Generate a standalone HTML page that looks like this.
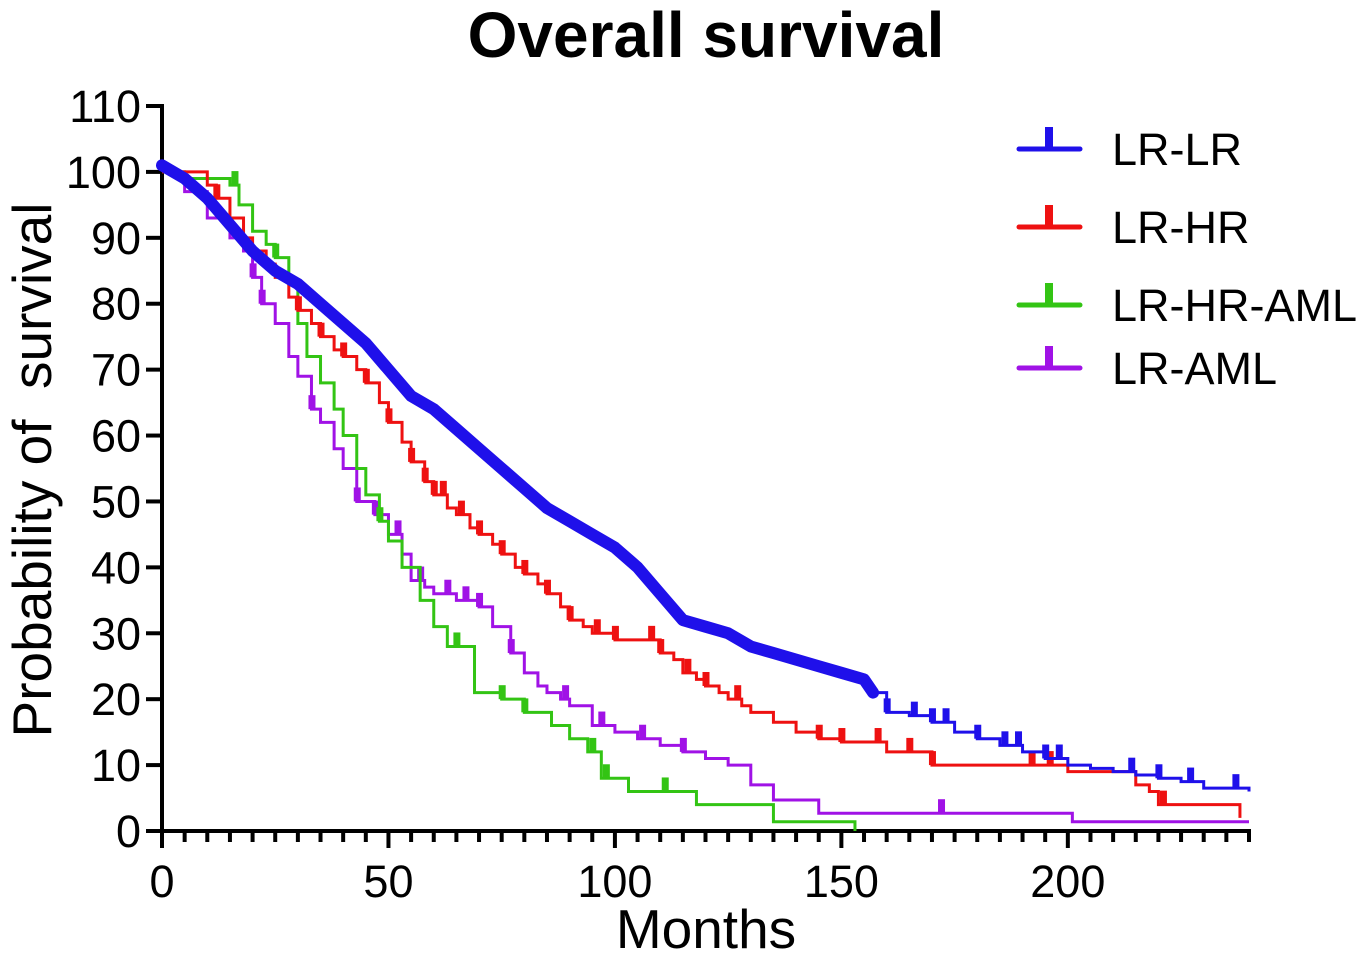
<!DOCTYPE html>
<html><head><meta charset="utf-8"><style>
html,body{margin:0;padding:0;background:#fff;}
svg{display:block;font-family:"Liberation Sans",Arial,sans-serif;}
</style></head><body>
<svg id="chart" width="1367" height="959" viewBox="0 0 1367 959">
<text x="706" y="57" text-anchor="middle" font-size="64" font-weight="bold">Overall survival</text>
<text x="706" y="948" text-anchor="middle" font-size="55">Months</text>
<text transform="translate(51,470) rotate(-90)" text-anchor="middle" font-size="55" xml:space="preserve">Probability of  survival</text>
<g id="axes"></g>
<g id="series"></g>
<g id="legend"></g>
</svg>
<script>
const xTicks=[0,50,100,150,200];
const yTicks=[0,10,20,30,40,50,60,70,80,90,100,110];
const seriesNames=["LR-LR","LR-HR","LR-HR-AML","LR-AML"];
const seriesColors=["#1f10ea","#ee1111","#33c414","#a012e6"];
const lrlrTimes=[0,5,10,15,20,25,30,35,40,45,50,55,60,65,70,75,80,85,90,95,100,105,110,115,120,125,130,135,140,145,150,155,157,160,165,170,175,180,185,190,195,200,205,210,215,220,225,230,240];
const lrlrSurv=[101,99,96,92,88,85,83,80,77,74,70,66,64,61,58,55,52,49,47,45,43,40,36,32,31,30,28,27,26,25,24,23,21,18,17.5,16.5,15,14,13,12,11,10,9.5,9,8.5,8,7.5,6.5,6];
const lrlrCensor=[160,166,170,173,180,186,189,195,198,214,220,227,237];
const lrhrTimes=[0,10,12,15,18,20,23,25,28,30,33,35,38,40,43,45,48,50,53,55,58,60,63,65,68,70,73,75,78,80,83,85,88,90,93,95,100,110,113,115,118,120,123,125,128,130,135,140,145,150,160,170,190,200,210,215,218,220,238];
const lrhrSurv=[100,98,96,93,90,88,86,84,81,79,77,75,73,72,70,68,65,62,59,56,53,51,49,48,46,45,43.5,42,40,39,37.5,36,34,32,31,30,29,27,26,24,23,22,21,20,19,18,16.5,15,14,13.5,12,10,10,9,9,7,6,4,2];
const lrhrCensor=[12,30,35,40,45,50,55,58,60,62,66,70,75,80,85,90,96,100,108,110,116,120,127,145,150,158,165,170,192,196,221];
const amlhrTimes=[0,5,15,17,20,23,25,28,30,32,35,38,40,43,45,48,50,53,57,60,63,69,75,80,86,90,94,97,103,118,135,153];
const amlhrSurv=[100,99,98,95,91,89,87,83,77,72,68,64,60,55,51,47,44,40,35,31,28,21,20,18,16,14,12,8,6,4,1.4,0];
const amlhrCensor=[16,25,48,65,75,80,95,98,111];
const amlTimes=[0,5,10,15,18,20,22,25,28,30,33,35,38,40,43,47,50,53,55,58,60,65,70,73,77,80,83,85,88,90,95,100,105,110,115,120,125,130,135,145,200,201,240];
const amlSurv=[100,97,93,90,88,84,80,77,72,69,64,62,58,55,50,48,45,42,38,37,36,35,34,31,27,24,22,21,20,19,16,15,14,13,12,11,10,7,4.7,2.7,2.7,1.4,1.4];
const amlCensor=[20,22,33,43,47,52,57,63,67,70,77,89,97,106,115,172];

const X0=162,X1=1249,Y0=831,Y1=106,XMAX=240,YMAX=110;
const BAND_END=157;
const sx=v=>X0+(X1-X0)*v/XMAX;
const sy=v=>Y0-(Y0-Y1)*v/YMAX;
const NS="http://www.w3.org/2000/svg";
function mk(tag,attrs,parent){const e=document.createElementNS(NS,tag);for(const k in attrs)e.setAttribute(k,attrs[k]);parent.appendChild(e);return e;}
const axes=document.getElementById('axes');
const ser=document.getElementById('series');
const leg=document.getElementById('legend');

const xa=mk('line',{x1:X0-2,y1:Y0,x2:X1+2,y2:Y0,stroke:'#000','stroke-width':4},axes);


const ya=mk('line',{x1:X0,y1:Y1-2,x2:X0,y2:Y0+2,stroke:'#000','stroke-width':4},axes);


for(let m=0;m<=XMAX;m+=5){
  const major=m%50===0;
  const t=mk('line',{x1:sx(m),y1:Y0,x2:sx(m),y2:Y0+(major?17:11),stroke:'#000','stroke-width':4},axes);
  
  
}
xTicks.forEach(v=>{
  const t=mk('text',{x:sx(v),y:897,'text-anchor':'middle','font-size':45},axes);t.textContent=v;
  
  
});
yTicks.forEach(v=>{
  const l=mk('line',{x1:X0-16,y1:sy(v),x2:X0,y2:sy(v),stroke:'#000','stroke-width':4},axes);
  
  
  const t=mk('text',{x:141,y:sy(v)+16,'text-anchor':'end','font-size':45},axes);t.textContent=v;
  
  
});

function stepPath(ts,ss){let d=`M${sx(ts[0])},${sy(ss[0])}`;for(let i=1;i<ts.length;i++){d+=`H${sx(ts[i])}V${sy(ss[i])}`;}return d;}
function linePath(ts,ss){return ts.map((t,i)=>(i?'L':'M')+sx(t)+','+sy(ss[i])).join('');}
function valAt(ts,ss,t){let v=ss[0];for(let i=0;i<ts.length;i++){if(ts[i]<=t)v=ss[i];}return v;}
const all=[[lrlrTimes,lrlrSurv,lrlrCensor],[lrhrTimes,lrhrSurv,lrhrCensor],[amlhrTimes,amlhrSurv,amlhrCensor],[amlTimes,amlSurv,amlCensor]];
const order=[3,2,1,0];
order.forEach(i=>{
  const [ts,ss,cs]=all[i];const c=seriesColors[i];
  const g=mk('g',{},ser);
  
  
  let pts=ts, pss=ss;
  if(i===0){
    const k=ts.findIndex(t=>t>=BAND_END);
    pts=ts.slice(k); pss=ss.slice(k);
    const th=mk('path',{d:linePath(ts.slice(0,k+1),ss.slice(0,k+1)),fill:'none',stroke:c,'stroke-width':12,'stroke-linejoin':'round','stroke-linecap':'round'},g);
    
    
  }
  const p=mk('path',{d:stepPath(pts,pss),fill:'none',stroke:c,'stroke-width':3},g);
  
  
  cs.forEach(t=>{
    const v=valAt(ts,ss,t);
    const r=mk('rect',{x:sx(t)-3,y:sy(v)-14,width:7,height:14,fill:c},g);
    
    
  });
});

const legY=[149,227,305,368];
seriesNames.forEach((n,i)=>{
  const g=mk('g',{},leg);
  
  
  mk('line',{x1:1019,y1:legY[i],x2:1080,y2:legY[i],stroke:seriesColors[i],'stroke-width':5,'stroke-linecap':'round'},g);
  mk('rect',{x:1045,y:legY[i]-22,width:8,height:22,fill:seriesColors[i]},g);
  const t=mk('text',{x:1112,y:legY[i]+16,'font-size':45},g);t.textContent=n;
});
</script>
</body></html>
